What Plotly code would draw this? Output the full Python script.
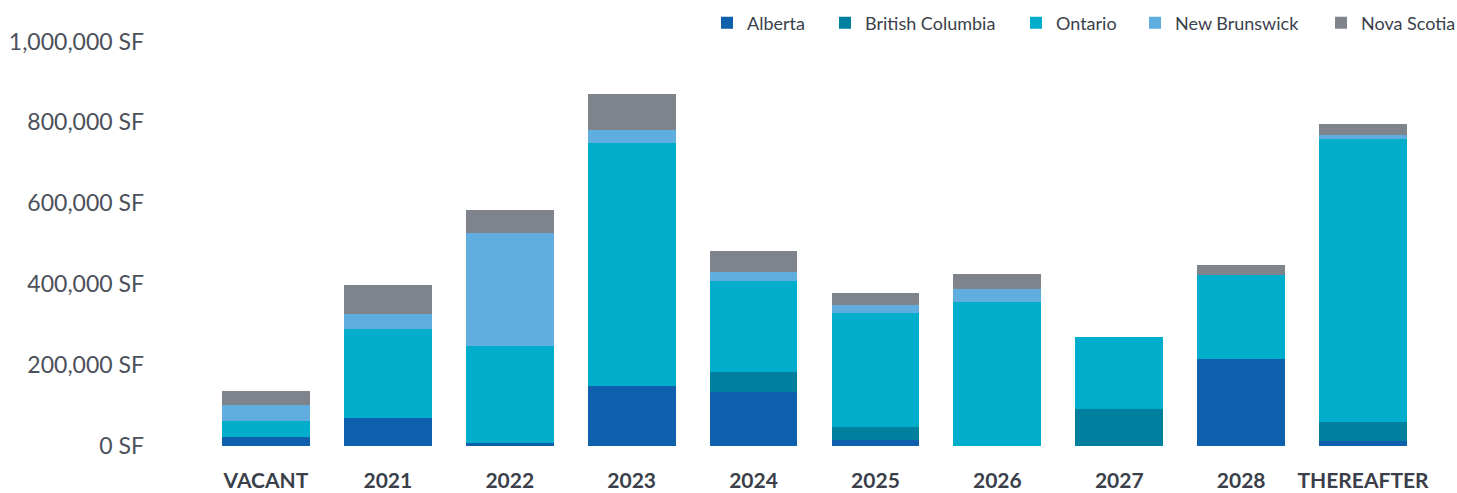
import plotly.graph_objects as go

categories = ["VACANT", "2021", "2022", "2023", "2024", "2025", "2026", "2027", "2028", "THEREAFTER"]
alberta = [22000, 69000, 7000, 148000, 133000, 15000, 0, 0, 215000, 12000]
british_columbia = [0, 0, 0, 0, 49000, 32000, 0, 91000, 0, 47000]
ontario = [40000, 220000, 240000, 602000, 225000, 281000, 356000, 178000, 207000, 699000]
new_brunswick = [40000, 37000, 279000, 30000, 22000, 20000, 32000, 0, 0, 10000]
nova_scotia = [35000, 72000, 57000, 91000, 52000, 30000, 37000, 0, 25000, 27000]

tick_vals = [0, 200000, 400000, 600000, 800000, 1000000]
tick_text = ["0 SF", "200,000 SF", "400,000 SF", "600,000 SF", "800,000 SF", "1,000,000 SF"]

series = [
    ("Alberta", alberta, "#0e5fac"),
    ("British Columbia", british_columbia, "#007f9f"),
    ("Ontario", ontario, "#00aecb"),
    ("New Brunswick", new_brunswick, "#60ade0"),
    ("Nova Scotia", nova_scotia, "#7f848c"),
]

# left pixel where each legend entry's label text begins
legend_text_x = [747, 865, 1056, 1175, 1361]

W, H = 1457, 493
fig = go.Figure()
legend_cfg = {}
for i, (name, vals, color) in enumerate(series):
    key = "legend" if i == 0 else f"legend{i+1}"
    fig.add_trace(go.Bar(x=categories, y=vals, name=name, legend=key, showlegend=True,
                         marker=dict(color=color, line=dict(width=0))))
    legend_cfg[key] = dict(
        orientation="h", visible=True,
        xref="container", yref="container",
        x=(legend_text_x[i] - 40) / W, xanchor="left",
        y=1 - 23 / H, yanchor="middle",
        font=dict(size=18, color="#3a3f4a", family="Lato"),
        itemwidth=30, bgcolor="rgba(0,0,0,0)", borderwidth=0,
    )

fig.update_layout(
    showlegend=True,
    barmode="stack",
    bargap=0.279,
    width=W, height=H,
    margin=dict(l=205, r=33, t=41, b=47),
    plot_bgcolor="white", paper_bgcolor="white",
    font=dict(family="Lato", color="#4b505b"),
    xaxis=dict(range=[-0.5, 9.5], showgrid=False, showline=False, zeroline=False,
               ticks="", automargin=False, ticklabelstandoff=20, tickangle=0,
               tickfont=dict(size=21, color="#3a3f4b", family="Lato", weight="bold")),
    yaxis=dict(range=[0, 1000000], tickvals=tick_vals, ticktext=tick_text,
               showgrid=False, showline=False, zeroline=False, ticks="",
               automargin=False, ticklabelstandoff=60,
               tickfont=dict(size=23, color="#4b505b")),
    **legend_cfg,
)

fig.write_html("out.html")
